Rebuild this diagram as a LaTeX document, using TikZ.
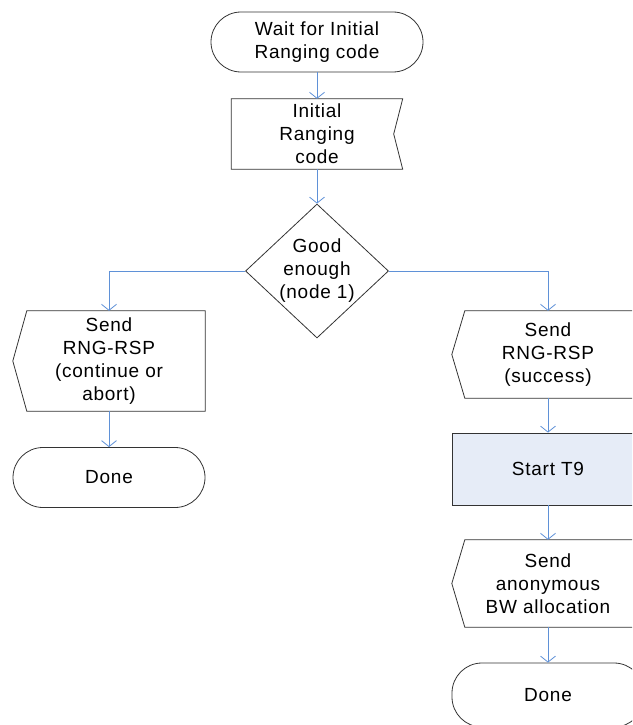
\documentclass[tikz,border=0pt]{standalone}
\usepackage{fontspec}
\setmainfont[LetterSpace=4]{Liberation Sans}
\usetikzlibrary{shapes.geometric,arrows.meta}
\definecolor{flowblue}{RGB}{95,145,215}
\definecolor{timerfill}{RGB}{230,236,247}
\tikzset{
  terminal/.style={draw=black!80, line width=0.8pt, rounded corners=30pt, minimum width=192pt, minimum height=60pt},
  sendbox/.style={minimum width=192pt, minimum height=87pt},
  outline/.style={draw=black!80, line width=0.8pt},
  flow/.style={draw=flowblue, line width=0.8pt, -{Straight Barb[length=6pt,width=15pt]}}
}
\begin{document}
\begin{tikzpicture}[x=1pt,y=-1pt,
  every node/.style={font=\fontsize{19}{23}\selectfont, align=center, inner sep=0pt}]
\clip (0,0) rectangle (632,725);
% middle column
\node[terminal, minimum width=212pt] (wait) at (317,42) {Wait for Initial\\Ranging code};
\node[minimum width=171pt, minimum height=70pt] (init) at (317,134) {Initial\\Ranging\\code};
\draw[outline] (init.north west) -- (init.north east) -- ([xshift=-9pt]init.east) -- (init.south east) -- (init.south west) -- cycle;
\node[diamond, outline, minimum width=143pt, minimum height=134pt] (good) at (317,271) {};
\node (goodtxt) at (good) {Good\\enough\\(node 1)};
% left column
\node[sendbox, minimum height=100pt] (sendl) at (109,361) {Send\\RNG-RSP\\(continue or\\abort)};
\draw[outline] (sendl.west) -- ([xshift=14pt]sendl.north west) -- (sendl.north east) -- (sendl.south east) -- ([xshift=14pt]sendl.south west) -- cycle;
\node[terminal] (donel) at (109,477.5) {Done};
% right column
\node[sendbox] (sendr) at (548,354.5) {Send\\RNG-RSP\\(success)};
\draw[outline] (sendr.west) -- ([xshift=13pt]sendr.north west) -- (sendr.north east) -- (sendr.south east) -- ([xshift=13pt]sendr.south west) -- cycle;
\node[outline, fill=timerfill, minimum width=192pt, minimum height=72pt] (t9) at (548,469) {Start T9};
\node[sendbox] (sendbw) at (548,583.5) {Send\\anonymous\\BW allocation};
\draw[outline] (sendbw.west) -- ([xshift=13pt]sendbw.north west) -- (sendbw.north east) -- (sendbw.south east) -- ([xshift=13pt]sendbw.south west) -- cycle;
\node[terminal, minimum height=64pt] (doner) at (548,695) {Done};
% connectors
\draw[flow] (wait) -- (init);
\draw[flow] (init) -- (good);
\draw[flow] (good.west) -| (sendl.north);
\draw[flow] (good.east) -| (sendr.north);
\draw[flow] (sendl) -- (donel);
\draw[flow] (sendr) -- (t9);
\draw[flow] (t9) -- (sendbw);
\draw[flow] (sendbw) -- (doner);
\end{tikzpicture}
\end{document}
